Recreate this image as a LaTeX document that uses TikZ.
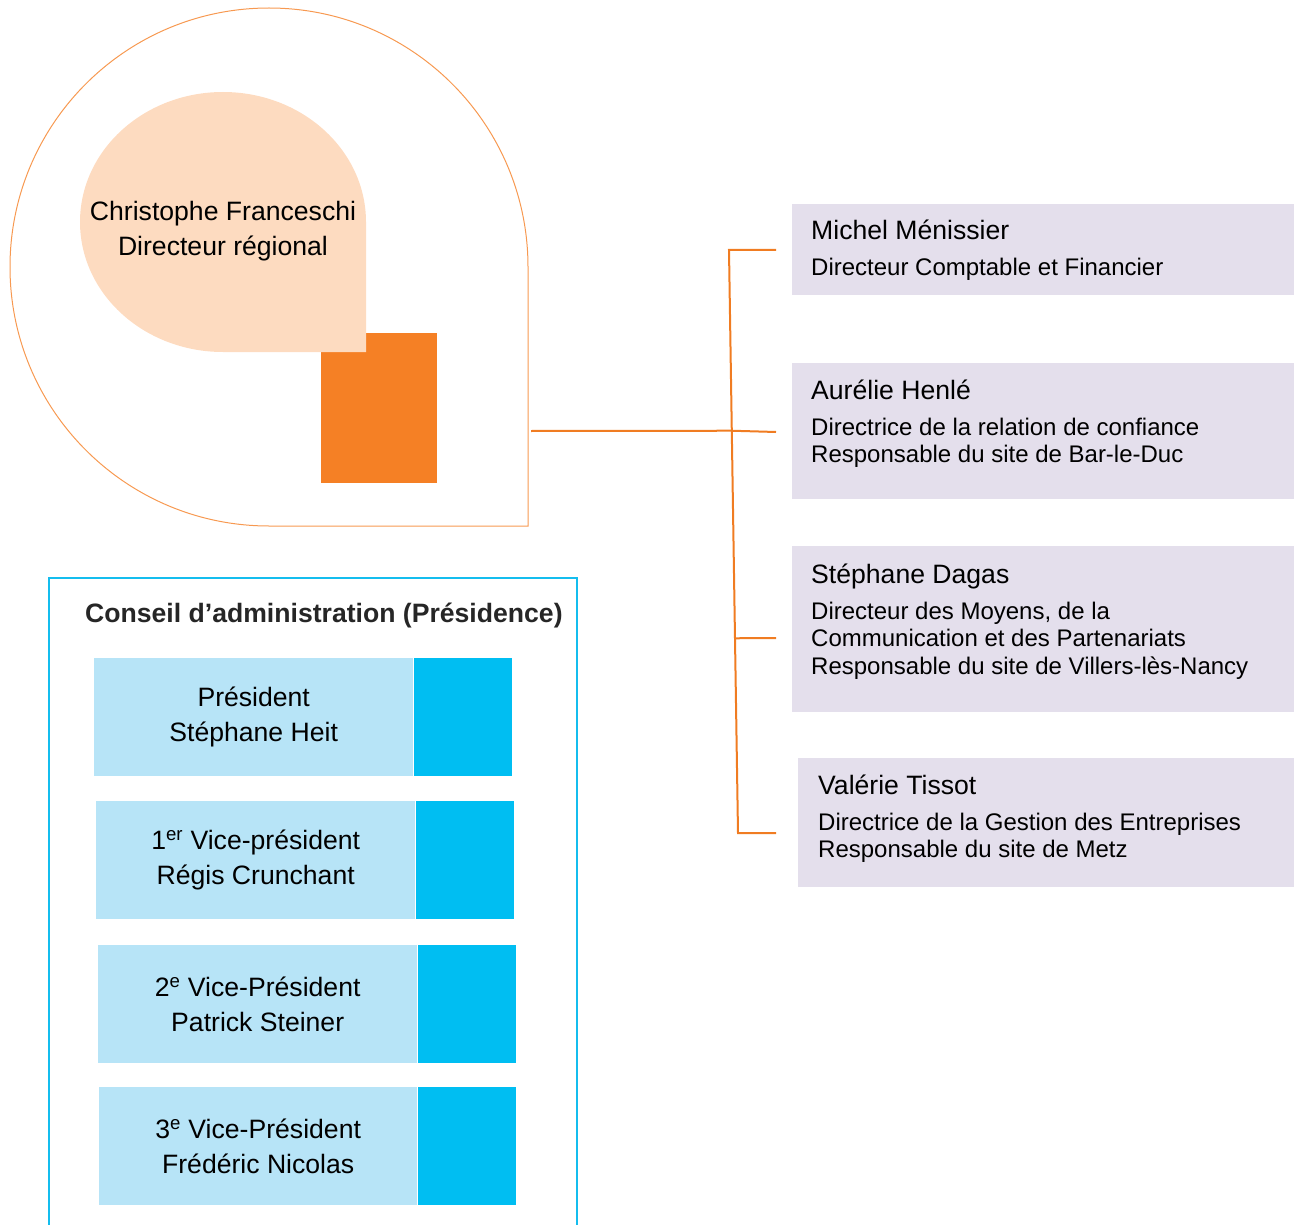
\documentclass[tikz,border=0pt]{standalone}
\usepackage{fontspec}
\setmainfont{Liberation Sans}
\usetikzlibrary{positioning,calc}

\definecolor{lavender}{HTML}{E4DFEC}
\definecolor{peach}{HTML}{FDDBC0}
\definecolor{pumpkin}{HTML}{F58025}
\definecolor{sky}{HTML}{B7E4F7}
\definecolor{cyanblue}{HTML}{00BEF2}
\definecolor{boardframe}{HTML}{14BDEE}
\definecolor{linkorange}{HTML}{F07C22}
\definecolor{titlegray}{HTML}{262626}

\begin{document}
\begin{tikzpicture}[x=1pt, y=-1pt,
        manager/.style={fill=lavender, anchor=north west, inner sep=0pt, minimum width=502pt},
        mgrname/.style={anchor=base west, inner sep=0pt, font=\fontsize{26.6}{35}\selectfont},
        mgrduty/.style={anchor=base west, inner sep=0pt, align=left, font=\fontsize{24}{27.5}\selectfont},
        member/.style={fill=sky, anchor=north west, inner sep=0pt, minimum width=319pt, minimum height=118pt,
        align=center, font=\fontsize{26.6}{35}\selectfont},
        seat/.style={fill=cyanblue, inner sep=0pt, minimum width=98pt, minimum height=118pt},
        branch/.style={draw=linkorange, line width=2pt}]
        \useasboundingbox (0,0) rectangle (1294,1225);

        % regional director
        \draw[draw=pumpkin!80, line width=1pt] (528,526) -- (269,526) arc[start angle=270, end angle=0, radius=259pt] -- cycle;
        \fill[pumpkin] (321,333) rectangle (437,483);
        \fill[peach] (366,352) -- (223,352) arc[start angle=270, end angle=0, x radius=143pt, y radius=130pt] -- cycle;
        \node (director) [align=center, font=\fontsize{26.6}{35}\selectfont] at (223,231) {Christophe Franceschi\\Directeur régional};
        \coordinate (tap) at (531,431);

        % managers (a duty node sits on the baseline of its last line)
        \node (menissier) [manager, minimum height=91pt] at (792,204) {};
        \node (menissier-name) [mgrname] at ($(menissier.north west)+(19,36)$) {Michel Ménissier};
        \node [mgrduty] at ($(menissier-name.base west)+(0,36)$) {Directeur Comptable et Financier};

        \node (henle) [manager, minimum height=136pt] at (792,363) {};
        \node (henle-name) [mgrname] at ($(henle.north west)+(19,36)$) {Aurélie Henlé};
        \node [mgrduty] at ($(henle-name.base west)+(0,63.5)$) {Directrice de la relation de confiance\\Responsable du site de Bar-le-Duc};

        \node (dagas) [manager, minimum height=166pt] at (792,546) {};
        \node (dagas-name) [mgrname] at ($(dagas.north west)+(19,37)$) {Stéphane Dagas};
        \node [mgrduty] at ($(dagas-name.base west)+(0,91)$) {Directeur des Moyens, de la\\Communication et des Partenariats\\Responsable du site de Villers-lès-Nancy};

        \node (tissot) [manager, minimum width=496pt, minimum height=129pt] at (798,758) {};
        \node (tissot-name) [mgrname] at ($(tissot.north west)+(20,36)$) {Valérie Tissot};
        \node [mgrduty] at ($(tissot-name.base west)+(0,63.5)$) {Directrice de la Gestion des Entreprises\\Responsable du site de Metz};

        % connectors
        \coordinate (menissier-in) at ($(menissier.north west)+(-16,46)$);
        \coordinate (henle-in) at ($(henle.north west)+(-16,69)$);
        \coordinate (dagas-in) at ($(dagas.north west)+(-16,92)$);
        \coordinate (tissot-in) at ($(tissot.north west)+(-22,75)$);
        \coordinate (trunk-top) at (729,250);
        \coordinate (trunk-bot) at (738,833);
        \draw[branch] (menissier-in) -- (trunk-top) -- (trunk-bot) -- (tissot-in);
        \draw[branch] (tap) -- ($(trunk-top)!0.31!(trunk-bot)$) -- (henle-in);
        \draw[branch] ($(trunk-top)!0.666!(trunk-bot)$) -- (dagas-in);

        % board
        \draw[draw=boardframe, line width=2pt] (49,1240) -- (49,578) -- (577,578) -- (577,1240);
        \node (board) [anchor=base west, inner sep=0pt, text=titlegray, font=\bfseries\fontsize{26.6}{35}\selectfont] at (85,622) {Conseil d’administration (Présidence)};

        \node (president) [member] at (94,658) {Président\\Stéphane Heit};
        \node (president-seat) [seat, right=0pt of president] {};

        \node (vp1) [member] at (96,801) {1\textsuperscript{er} Vice-président\\Régis Crunchant};
        \node (vp1-seat) [seat, right=0pt of vp1] {};

        \node (vp2) [member] at (98,945) {2\textsuperscript{e} Vice-Président\\Patrick Steiner};
        \node (vp2-seat) [seat, right=0pt of vp2] {};

        \node (vp3) [member, minimum width=318pt] at (99,1087) {3\textsuperscript{e} Vice-Président\\Frédéric Nicolas};
        \node (vp3-seat) [seat, right=0pt of vp3] {};
\end{tikzpicture}
\end{document}
